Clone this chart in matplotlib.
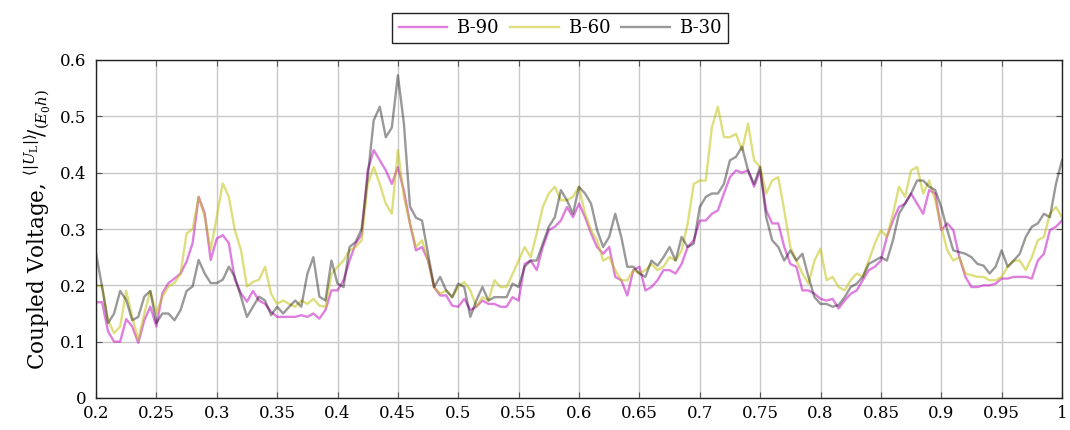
import numpy as np
import matplotlib
matplotlib.use("Agg")
import matplotlib.pyplot as plt

plt.rcParams['font.family'] = ['DejaVu Serif']
plt.rcParams['mathtext.fontset'] = 'dejavuserif'

x = np.round(np.arange(0.2, 1.0001, 0.005), 3)

b90 = [0.17, 0.17, 0.118, 0.10, 0.10, 0.14, 0.127, 0.098, 0.138, 0.162,
       0.127, 0.186, 0.204, 0.212, 0.221, 0.242, 0.275, 0.357, 0.328, 0.245,
       0.283, 0.289, 0.275, 0.21, 0.186, 0.171, 0.19, 0.173, 0.167, 0.153,
       0.144, 0.144, 0.144, 0.144, 0.147, 0.144, 0.15, 0.141, 0.156, 0.191,
       0.191, 0.209, 0.244, 0.274, 0.29, 0.404, 0.44, 0.422, 0.404, 0.38,
       0.41, 0.368, 0.31, 0.262, 0.268, 0.244, 0.197, 0.182, 0.182, 0.164,
       0.162, 0.176, 0.156, 0.162, 0.173, 0.167, 0.167, 0.162, 0.162, 0.179,
       0.173, 0.238, 0.244, 0.227, 0.268, 0.298, 0.304, 0.315, 0.339, 0.321,
       0.345, 0.321, 0.292, 0.268, 0.256, 0.268, 0.215, 0.209, 0.182, 0.227,
       0.233, 0.191, 0.197, 0.209, 0.227, 0.227, 0.221, 0.238, 0.268, 0.28,
       0.315, 0.315, 0.327, 0.333, 0.363, 0.392, 0.404, 0.40, 0.404, 0.375,
       0.404, 0.333, 0.31, 0.31, 0.268, 0.238, 0.233, 0.191, 0.191, 0.185,
       0.176, 0.173, 0.176, 0.159, 0.173, 0.185, 0.191, 0.209, 0.227, 0.233,
       0.244, 0.286, 0.315, 0.339, 0.345, 0.363, 0.345, 0.327, 0.369, 0.363,
       0.298, 0.31, 0.298, 0.25, 0.215, 0.197, 0.197, 0.20, 0.20, 0.203,
       0.212, 0.212, 0.215, 0.215, 0.215, 0.212, 0.244, 0.256, 0.298, 0.304,
       0.315]

b60 = [0.20, 0.198, 0.138, 0.115, 0.127, 0.19, 0.144, 0.103, 0.15, 0.19,
       0.15, 0.18, 0.198, 0.204, 0.221, 0.292, 0.30, 0.357, 0.322, 0.263,
       0.322, 0.381, 0.357, 0.298, 0.263, 0.198, 0.206, 0.21, 0.233, 0.185,
       0.167, 0.173, 0.167, 0.162, 0.173, 0.167, 0.176, 0.164, 0.162, 0.22,
       0.233, 0.244, 0.262, 0.268, 0.28, 0.38, 0.41, 0.38, 0.345, 0.327,
       0.44, 0.357, 0.31, 0.268, 0.28, 0.244, 0.197, 0.185, 0.191, 0.179,
       0.197, 0.206, 0.191, 0.162, 0.179, 0.173, 0.209, 0.197, 0.197, 0.22,
       0.244, 0.268, 0.25, 0.292, 0.339, 0.363, 0.375, 0.351, 0.351, 0.357,
       0.375, 0.327, 0.298, 0.28, 0.244, 0.25, 0.227, 0.209, 0.209, 0.227,
       0.221, 0.227, 0.238, 0.227, 0.233, 0.25, 0.244, 0.262, 0.31, 0.38,
       0.386, 0.386, 0.48, 0.517, 0.463, 0.463, 0.469, 0.44, 0.487, 0.422,
       0.41, 0.363, 0.386, 0.392, 0.333, 0.268, 0.244, 0.221, 0.203, 0.244,
       0.265, 0.209, 0.215, 0.197, 0.191, 0.209, 0.221, 0.215, 0.244, 0.274,
       0.298, 0.286, 0.327, 0.375, 0.357, 0.404, 0.41, 0.363, 0.386, 0.351,
       0.304, 0.262, 0.244, 0.25, 0.221, 0.218, 0.215, 0.215, 0.209, 0.209,
       0.215, 0.233, 0.244, 0.244, 0.227, 0.25, 0.28, 0.286, 0.327, 0.339,
       0.321]

b30 = [0.257, 0.198, 0.133, 0.15, 0.19, 0.174, 0.138, 0.144, 0.18, 0.19,
       0.133, 0.15, 0.15, 0.138, 0.156, 0.19, 0.198, 0.245, 0.221, 0.204,
       0.204, 0.21, 0.233, 0.215, 0.18, 0.144, 0.162, 0.18, 0.173, 0.147,
       0.162, 0.15, 0.162, 0.173, 0.162, 0.22, 0.25, 0.18, 0.173, 0.244,
       0.203, 0.197, 0.268, 0.277, 0.30, 0.392, 0.493, 0.517, 0.463, 0.48,
       0.573, 0.487, 0.34, 0.32, 0.315, 0.256, 0.197, 0.215, 0.191, 0.179,
       0.203, 0.197, 0.144, 0.173, 0.197, 0.173, 0.179, 0.179, 0.179, 0.203,
       0.197, 0.233, 0.244, 0.244, 0.274, 0.304, 0.321, 0.369, 0.351, 0.327,
       0.375, 0.363, 0.345, 0.298, 0.268, 0.286, 0.327, 0.286, 0.233, 0.233,
       0.221, 0.215, 0.244, 0.235, 0.25, 0.268, 0.244, 0.286, 0.268, 0.274,
       0.339, 0.357, 0.363, 0.363, 0.38, 0.422, 0.428, 0.446, 0.404, 0.38,
       0.41, 0.321, 0.28, 0.268, 0.244, 0.262, 0.244, 0.256, 0.215, 0.179,
       0.167, 0.167, 0.162, 0.165, 0.179, 0.197, 0.203, 0.215, 0.238, 0.244,
       0.25, 0.244, 0.28, 0.327, 0.345, 0.363, 0.386, 0.386, 0.375, 0.369,
       0.339, 0.298, 0.262, 0.259, 0.256, 0.25, 0.238, 0.235, 0.221, 0.233,
       0.262, 0.233, 0.244, 0.256, 0.286, 0.304, 0.31, 0.327, 0.321, 0.38,
       0.422]

labels = ['B-90', 'B-60', 'B-30']
series = [b90, b60, b30]
colors = ['#bf00bf', '#bfbf00', '#000000']
alphas = [0.5, 0.5, 0.4]

xticks = [0.2, 0.25, 0.3, 0.35, 0.4, 0.45, 0.5, 0.55, 0.6, 0.65, 0.7,
          0.75, 0.8, 0.85, 0.9, 0.95, 1.0]
xticklabels = ['0.2', '0.25', '0.3', '0.35', '0.4', '0.45', '0.5', '0.55',
               '0.6', '0.65', '0.7', '0.75', '0.8', '0.85', '0.9', '0.95', '1']
yticks = [0, 0.1, 0.2, 0.3, 0.4, 0.5, 0.6]
yticklabels = ['0', '0.1', '0.2', '0.3', '0.4', '0.5', '0.6']

fig = plt.figure(figsize=(10.7, 4.3), dpi=100)
ax = fig.add_axes([96/1070, 1-398/430, (1062-96)/1070, (398-60)/430])

for y, lab, c, a in zip(series, labels, colors, alphas):
    ax.plot(x, y, color=c, alpha=a, lw=1.7, label=lab)

ax.set_xlim(0.2, 1.0)
ax.set_ylim(0, 0.6)
ax.set_xticks(xticks)
ax.set_xticklabels(xticklabels)
ax.set_yticks(yticks)
ax.set_yticklabels(yticklabels)
ax.grid(True, color='#c8c8c8', lw=1.0)
ax.set_axisbelow(True)
ax.tick_params(direction='in', top=True, right=True, length=4, width=0.8,
               color='#555555', labelsize=12)
ax.tick_params(axis='x', pad=5)
ax.tick_params(axis='y', pad=7)
for s in ax.spines.values():
    s.set_linewidth(1.0)
    s.set_color('#222222')

ax.set_ylabel(r'Coupled Voltage, $^{\langle|U_\mathrm{L}|\rangle}\!/_{(E_0 h)}$',
              fontsize=15.5, labelpad=5)

leg = fig.legend(loc='center', bbox_to_anchor=(560/1070, 1-28/430), ncol=3,
                 fontsize=13, frameon=True, fancybox=False, framealpha=1,
                 edgecolor='#222222', handlelength=2.7, columnspacing=0.6,
                 handletextpad=0.5, borderpad=0.35)
leg.get_frame().set_linewidth(1.0)

fig.savefig('out.png', dpi=100)
